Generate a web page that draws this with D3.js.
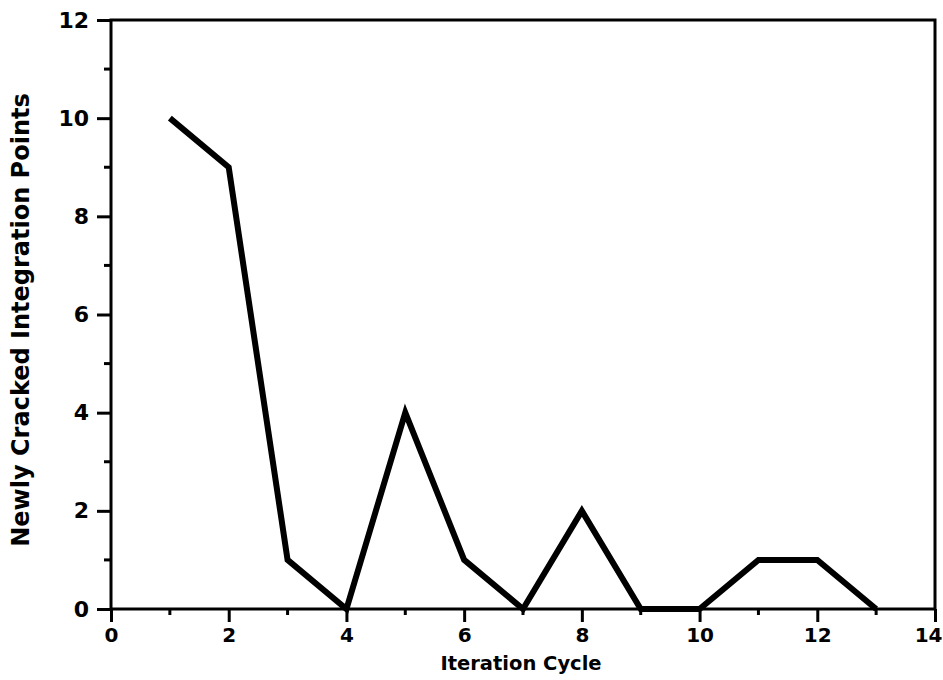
<!DOCTYPE html>
<html>
<head>
<meta charset="utf-8">
<script src="https://cdn.jsdelivr.net/npm/d3@7"></script>
<style>
  body { margin: 0; background: #fff; }
  text { font-family: "DejaVu Sans", sans-serif; font-weight: bold; fill: #000; }
</style>
</head>
<body>
<svg id="chart" width="943" height="680"></svg>
<script>
var cycles = [1, 2, 3, 4, 5, 6, 7, 8, 9, 10, 11, 12, 13];
var cracked = [10, 9, 1, 0, 4, 1, 0, 2, 0, 0, 1, 1, 0];
var xTicks = [0, 2, 4, 6, 8, 10, 12, 14];
var xMinor = [1, 3, 5, 7, 9, 11, 13];
var yTicks = [0, 2, 4, 6, 8, 10, 12];
var yMinor = [1, 3, 5, 7, 9, 11];

var margin = { left: 111, right: 8, top: 20, bottom: 71 };
var width = 943 - margin.left - margin.right;
var height = 680 - margin.top - margin.bottom;

var svg = d3.select('#chart');
var g = svg.append('g')
  .attr('transform', 'translate(' + margin.left + ',' + margin.top + ')');

var x = d3.scaleLinear().domain([0, 14]).range([0, width]);
var y = d3.scaleLinear().domain([0, 12]).range([height, 0]);

// frame
g.append('rect')
  .attr('x', 0)
  .attr('y', 0)
  .attr('width', width)
  .attr('height', height)
  .attr('fill', 'none')
  .attr('stroke', '#000')
  .attr('stroke-width', 3);

// x axis
var xAxis = g.append('g')
  .attr('transform', 'translate(0,' + height + ')')
  .call(d3.axisBottom(x).tickValues(xTicks).tickFormat(d3.format('d'))
    .tickSize(13).tickPadding(6));
xAxis.select('.domain').remove();
xAxis.selectAll('line').attr('stroke-width', 3);
xAxis.selectAll('text').style('font-size', '20px');
// last label sits on the page edge, keep it inside
xAxis.selectAll('.tick')
  .filter(function (d) { return d === 14; })
  .select('text')
  .attr('text-anchor', 'end')
  .attr('x', 7);

g.append('g')
  .attr('transform', 'translate(0,' + height + ')')
  .selectAll('line')
  .data(xMinor)
  .join('line')
  .attr('x1', x).attr('x2', x)
  .attr('y1', 0).attr('y2', 6)
  .attr('stroke', '#000')
  .attr('stroke-width', 3);

// y axis
var yAxis = g.append('g')
  .call(d3.axisLeft(y).tickValues(yTicks).tickFormat(d3.format('d'))
    .tickSize(14).tickPadding(8));
yAxis.select('.domain').remove();
yAxis.selectAll('line').attr('stroke-width', 3);
yAxis.selectAll('text').style('font-size', '22px');

g.append('g')
  .selectAll('line')
  .data(yMinor)
  .join('line')
  .attr('x1', -7).attr('x2', 0)
  .attr('y1', y).attr('y2', y)
  .attr('stroke', '#000')
  .attr('stroke-width', 3);

// series
var line = d3.line()
  .x(function (d, i) { return x(cycles[i]); })
  .y(function (d) { return y(d); });

g.append('path')
  .datum(cracked)
  .attr('d', line)
  .attr('fill', 'none')
  .attr('stroke', '#000')
  .attr('stroke-width', 6)
  .attr('stroke-linejoin', 'miter')
  .attr('stroke-linecap', 'butt');

// axis titles
svg.append('text')
  .attr('x', 521)
  .attr('y', 670)
  .attr('text-anchor', 'middle')
  .style('font-size', '19.5px')
  .text('Iteration Cycle');

svg.append('text')
  .attr('transform', 'translate(29,320) rotate(-90)')
  .attr('text-anchor', 'middle')
  .style('font-size', '24px')
  .text('Newly Cracked Integration Points');
</script>
</body>
</html>
